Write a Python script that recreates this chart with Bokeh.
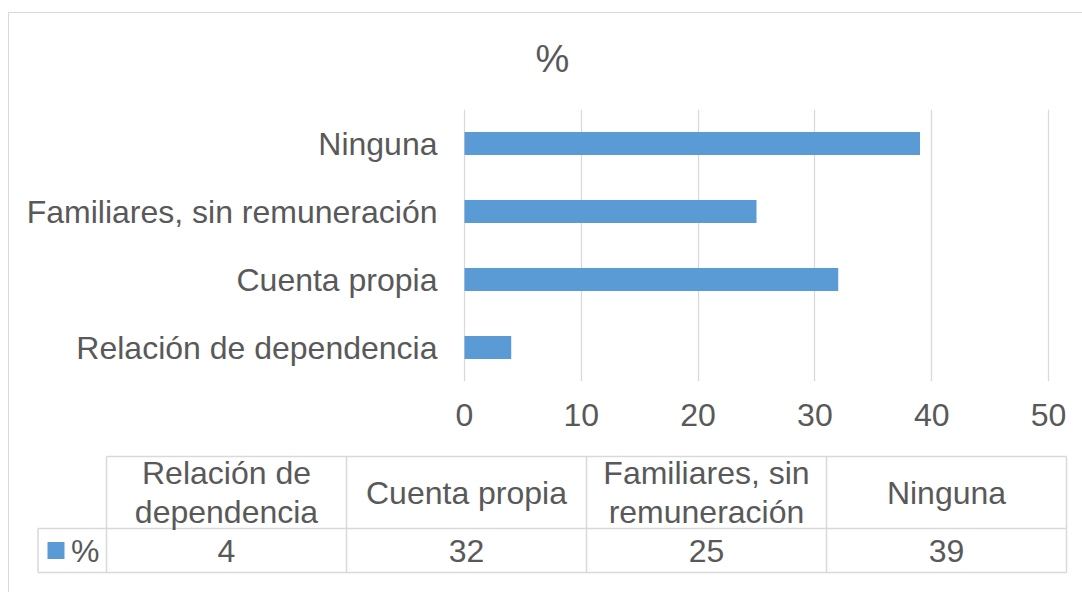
from bokeh.plotting import figure
from bokeh.models import Range1d, FactorRange, FixedTicker
from bokeh.core.properties import value
from bokeh.embed import file_html
from bokeh.resources import INLINE

# ---------------- data ----------------
categories = ["Relación de dependencia", "Cuenta propia",
              "Familiares, sin remuneración", "Ninguna"]
values = [4, 32, 25, 39]
table_headers = ["Relación de\ndependencia", "Cuenta propia",
                 "Familiares, sin\nremuneración", "Ninguna"]
x_ticks = [0, 10, 20, 30, 40, 50]
series_name = "%"
title_text = "%"

# ---------------- style ----------------
FONT = "Liberation Sans"
TXT = "#595959"
GRID = "#d9d9d9"
BAR = "#5b9bd5"
FS = "32px"

W = 1082
TOP_H = 440
BOT_H = 152

# ---------------- bar chart ----------------
fl, fr = 463, 1049          # frame left / right (canvas px)
ft, fb = 109, 381           # frame top / bottom (canvas px)
xmax = max(x_ticks)
px_per_unit = (fr - fl - 2) / xmax
pad = 1 / px_per_unit

p = figure(width=W, height=TOP_H,
           y_range=FactorRange(*categories),
           x_range=Range1d(-pad, xmax + pad),
           output_backend="svg", toolbar_location=None,
           min_border_left=fl, min_border_right=W - fr,
           min_border_top=ft, min_border_bottom=TOP_H - fb)
p.outline_line_color = None
p.background_fill_color = "white"
p.border_fill_color = None
p.styles = {"background":
            "linear-gradient(#d9d9d9,#d9d9d9) 8px 12px / 1px 100% no-repeat, "
            "linear-gradient(#d9d9d9,#d9d9d9) 8px 12px / 100% 1px no-repeat, white"}

p.hbar(y=categories, left=0, right=values, height=0.34,
       fill_color=BAR, line_color=None)

p.title.text = title_text
p.title.text_font = FONT
p.title.text_font_size = "38px"
p.title.text_font_style = "normal"
p.title.text_color = TXT
p.title.align = "left"
p.title.offset = 72
p.title.standoff = 59

p.xaxis.ticker = FixedTicker(ticks=x_ticks)
p.xgrid.ticker = FixedTicker(ticks=x_ticks)
p.xaxis.axis_line_color = None
p.xaxis.major_tick_line_color = None
p.xaxis.minor_tick_line_color = None
p.xaxis.major_label_text_font = FONT
p.xaxis.major_label_text_font_size = FS
p.xaxis.major_label_text_color = TXT
p.xaxis.major_label_standoff = 16

p.yaxis.axis_line_color = None
p.yaxis.major_tick_line_color = None
p.yaxis.minor_tick_line_color = None
p.yaxis.major_label_text_font = FONT
p.yaxis.major_label_text_font_size = FS
p.yaxis.major_label_text_color = TXT
p.yaxis.major_label_standoff = 20

p.xgrid.grid_line_color = GRID
p.xgrid.grid_line_width = 1.3
p.ygrid.grid_line_color = None

# ---------------- data table ----------------
n = len(categories)
col_px = 240                 # width of one category column (px)
leg_w = 68.5 / col_px        # legend column, in column units
row_px = 44                  # height of the value row (px)
hdr_h = 72 / row_px          # header row, in value-row units
tl, tr = 35, 1068            # table frame left / right
tt, tb = 14, 135             # table frame top / bottom

t = figure(width=W, height=BOT_H,
           x_range=Range1d(-leg_w - 2.5 / col_px, n + 2 / col_px),
           y_range=Range1d(-3 / row_px, 1 + hdr_h + 2 / row_px),
           output_backend="svg", toolbar_location=None,
           min_border_left=tl, min_border_right=W - tr,
           min_border_top=tt, min_border_bottom=BOT_H - tb)
t.outline_line_color = None
t.axis.visible = False
t.grid.visible = False
t.background_fill_color = None
t.border_fill_color = None
t.styles = {"background":
            "linear-gradient(#d9d9d9,#d9d9d9) 8px 0 / 1px 100% no-repeat, white"}

idx = list(range(n))
hx0 = [0, -leg_w, -leg_w]
hx1 = [n, n, n]
hy = [1 + hdr_h, 1, 0]
t.segment(x0=hx0, x1=hx1, y0=hy, y1=hy, line_color=GRID, line_width=1.5)
vx = [-leg_w] + [i for i in range(n + 1)]
vy0 = [0] * (n + 2)
vy1 = [1] + [1 + hdr_h] * (n + 1)
t.segment(x0=vx, x1=vx, y0=vy0, y1=vy1, line_color=GRID, line_width=1.5)

cx = [i + 0.5 for i in idx]
t.text(x=cx, y=[1 + hdr_h / 2] * n, text=table_headers,
       text_font=value(FONT), text_font_size=FS, text_color=TXT,
       text_align="center", text_baseline="middle", text_line_height=1.1)
t.text(x=cx, y=[0.5] * n, text=[str(v) for v in values],
       text_font=value(FONT), text_font_size=FS, text_color=TXT,
       text_align="center", text_baseline="middle")

t.scatter(x=[-leg_w + 0.075], y=[0.5], marker="square", size=17,
          fill_color=BAR, line_color=None)
t.text(x=[-leg_w + 0.138], y=[0.5], text=[series_name],
       text_font=value(FONT), text_font_size=FS, text_color=TXT,
       text_align="left", text_baseline="middle")

open("out.html", "w").write(file_html([p, t], INLINE))
